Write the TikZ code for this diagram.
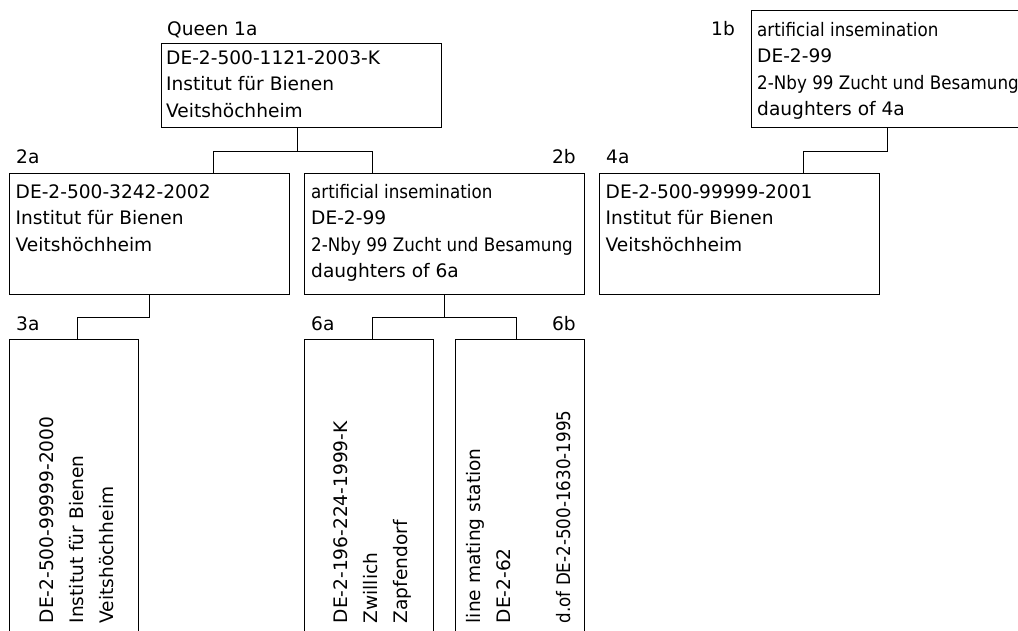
\documentclass[tikz,border=0pt]{standalone}
\usepackage{fontspec}
\setmainfont{DejaVu Sans}
\newfontfamily\condfont[FakeStretch=0.9]{DejaVu Sans}
\usetikzlibrary{calc}

\tikzset{
  pbox/.style={draw, line width=1pt, inner sep=0pt, anchor=north west},
  ptext/.style={anchor=north west, inner sep=0pt, align=left, font=\fontsize{18.6}{26.5}\selectfont},
  vtext/.style={anchor=north west, inner sep=0pt, align=left, rotate=90, font=\fontsize{18.6}{30}\selectfont},
  plabel/.style={inner sep=0pt, font=\fontsize{18.6}{22}\selectfont},
  fork/.style={line width=1pt}
}

\begin{document}
\begin{tikzpicture}[x=1pt,y=1pt,yscale=-1,xscale=1]
\useasboundingbox (0,0) rectangle (1018,630);
\clip (0,0) rectangle (1018,630);

%Shape: Rectangle [queen 1a]
\node[pbox, minimum width=280pt, minimum height=84pt] (q1a) at (160.5,43) {};
%Shape: Rectangle [1b]
\node[pbox, minimum width=271.4pt, minimum height=117pt] (d1b) at (751,10) {};
%Shape: Rectangle [2a]
\node[pbox, minimum width=280pt, minimum height=121pt] (d2a) at (9,173) {};
%Shape: Rectangle [2b]
\node[pbox, minimum width=280.4pt, minimum height=121pt] (d2b) at (304,173) {};
%Shape: Rectangle [4a]
\node[pbox, minimum width=280pt, minimum height=121pt] (d4a) at (599,173) {};
%Shape: Rectangle [3a]
\node[pbox, minimum width=129pt, minimum height=310pt] (d3a) at (9,339) {};
%Shape: Rectangle [6a]
\node[pbox, minimum width=129pt, minimum height=310pt] (d6a) at (304,339) {};
%Shape: Rectangle [6b]
\node[pbox, minimum width=129pt, minimum height=310pt] (d6b) at (455.4,339) {};

% Connectors
\draw[fork] ([xshift=-3.5pt]q1a.south) -- ++(0,23) -| ([xshift=204.5pt]d2a.north west);
\draw[fork] ([xshift=-3.5pt]q1a.south) -- ++(0,23) -| ([xshift=68.5pt]d2b.north west);
\draw[fork] (d1b.south) -- ++(0,23) -| ([xshift=204.5pt]d4a.north west);
\draw[fork] (d2a.south) -- ++(0,22) -| ([xshift=68.5pt]d3a.north west);
\draw[fork] (d2b.south) -- ++(0,22) -| ([xshift=68.5pt]d6a.north west);
\draw[fork] (d2b.south) -- ++(0,22) -| ([xshift=61pt]d6b.north west);

% Text Node
\node[ptext] (t1a) at ($(q1a.north west)+(5.5,2.5)$) {\strut DE-2-500-1121-2003-K\\Institut für Bienen\\Veitshöchheim};
% Text Node
\node[ptext] (t1b) at ($(d1b.north west)+(6,7.5)$) {\strut {\condfont artificial insemination}\\DE-2-99\\{\condfont 2-Nby 99 Zucht und Besamung}\\daughters of 4a};
% Text Node
\node[ptext] (t2a) at ($(d2a.north west)+(6.5,6.5)$) {\strut DE-2-500-3242-2002\\Institut für Bienen\\Veitshöchheim};
% Text Node
\node[ptext] (t2b) at ($(d2b.north west)+(7,6.5)$) {\strut {\condfont artificial insemination}\\DE-2-99\\{\condfont 2-Nby 99 Zucht und Besamung}\\daughters of 6a};
% Text Node
\node[ptext] (t4a) at ($(d4a.north west)+(6.5,6.5)$) {\strut DE-2-500-99999-2001\\Institut für Bienen\\Veitshöchheim};
% Text Node
\node[vtext] (t3a) at (32.5,623.5) {\strut DE-2-500-99999-2000\\Institut für Bienen\\Veitshöchheim};
% Text Node
\node[vtext] (t6a) at (326,623.5) {\strut DE-2-196-224-1999-K\\Zwillich\\Zapfendorf};
% Text Node
\node[vtext] (t6b) at (459,623.5) {\strut line mating station\\DE-2-62\\\\{\condfont d.of DE-2-500-1630-1995}};

% Labels
\node[plabel, anchor=base west] (l1a) at (167,35) {Queen 1a};
\node[plabel, anchor=base west] (l1b) at (711,35) {1b};
\node[plabel, anchor=base west] (l2a) at (16,163) {2a};
\node[plabel, anchor=base east] (l2b) at (576,163) {2b};
\node[plabel, anchor=base west] (l4a) at (606,163) {4a};
\node[plabel, anchor=base west] (l3a) at (16,330) {3a};
\node[plabel, anchor=base west] (l6a) at (311,330) {6a};
\node[plabel, anchor=base east] (l6b) at (576,330) {6b};

\end{tikzpicture}
\end{document}
